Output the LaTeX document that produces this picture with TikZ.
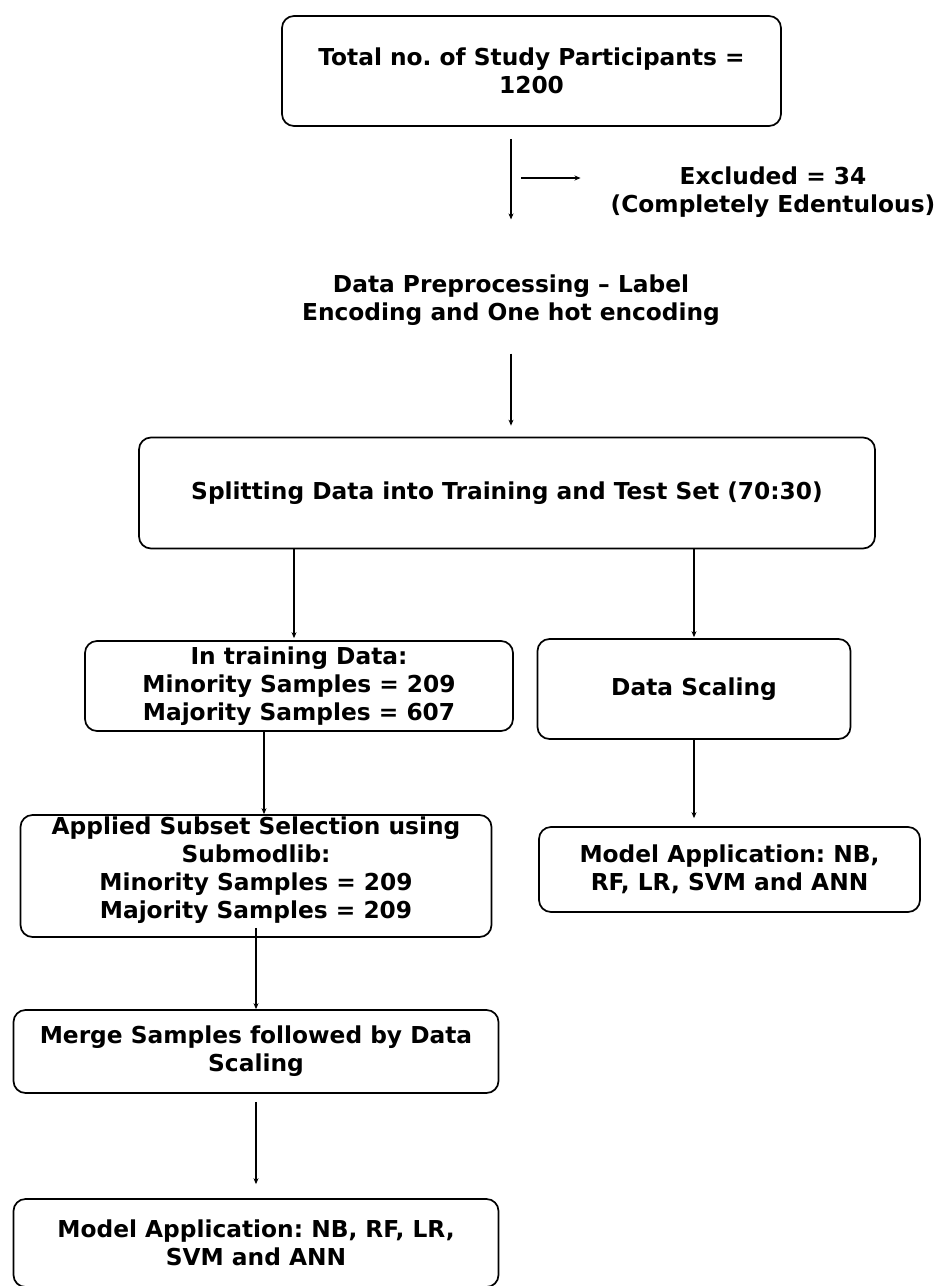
\documentclass[tikz,border=0pt]{standalone}
\usepackage{fontspec}
\setmainfont{DejaVu Sans}
\usetikzlibrary{positioning,arrows.meta}

\tikzset{
  box/.style={draw, line width=1.7pt, rounded corners=12pt, align=center, inner sep=0pt},
  txt/.style={align=center, inner sep=0pt},
  link/.style={-{Stealth[length=6pt,width=5pt]}, line width=1.8pt},
}

\begin{document}
\frenchspacing
\begin{tikzpicture}[x=1pt,y=-1pt,font=\fontsize{23.3}{28}\selectfont\bfseries]
  \useasboundingbox (0,0) rectangle (937,1286);
  % boxes and labels
  \node[box, minimum width=499pt, minimum height=110pt] (total) at (531.5,71) {Total no. of Study Participants =\\1200};
  \node[txt] (excl) at (773,192) {Excluded = 34\\(Completely Edentulous)};
  \coordinate (branch) at (521,178);
  \node[txt] (prep) at (511,300) {Data Preprocessing -- Label\\Encoding and One hot encoding};
  \node[box, minimum width=736pt, minimum height=111pt] (split) at (507,493) {Splitting Data into Training and Test Set (70:30)};
  \node[box, minimum width=428pt, minimum height=90pt] (train) at (299,686) {In training Data:\\Minority Samples = 209\\Majority Samples = 607};
  \node[box, minimum width=313pt, minimum height=100pt] (scale) at (694,689) {Data Scaling};
  \node[box, minimum width=381pt, minimum height=85pt] (modelR) at (729.5,869.5) {Model Application: NB,\\RF, LR, SVM and ANN};
  \node[box, minimum width=471pt, minimum height=122pt] (subset) at (256,876) {Applied Subset Selection using\\Submodlib:\\Minority Samples = 209\\Majority Samples = 209\\[-12pt]};
  \node[box, minimum width=485pt, minimum height=83pt] (merge) at (256,1051.5) {Merge Samples followed by Data\\Scaling};
  \node[box, minimum width=485pt, minimum height=88pt] (modelL) at (256,1243) {Model Application: NB, RF, LR,\\SVM and ANN};
  % connectors
  \draw[link, shorten <=12pt, shorten >=55pt] (total.south -| prep.north) -- (prep.north);
  \draw[link, shorten >=30pt] (branch) -- (branch -| excl.west);
  \draw[link, shorten <=28pt, shorten >=11pt] (prep.south) -- (prep.south |- split.north);
  \draw[link, shorten >=2pt] ([xshift=-5pt]train.north |- split.south) -- ([xshift=-5pt]train.north);
  \draw[link, shorten >=1pt] (scale.north |- split.south) -- (scale.north);
  \draw[link, shorten >=8pt] (scale.south) -- (scale.south |- modelR.north);
  \draw[link] ([xshift=-35pt]train.south) -- ([xshift=-35pt]train.south |- subset.north);
  \draw[link, shorten <=-10pt] (subset.south -| merge.north) -- (merge.north);
  \draw[link, shorten <=8pt, shorten >=14pt] (merge.south) -- (modelL.north);
\end{tikzpicture}
\end{document}
